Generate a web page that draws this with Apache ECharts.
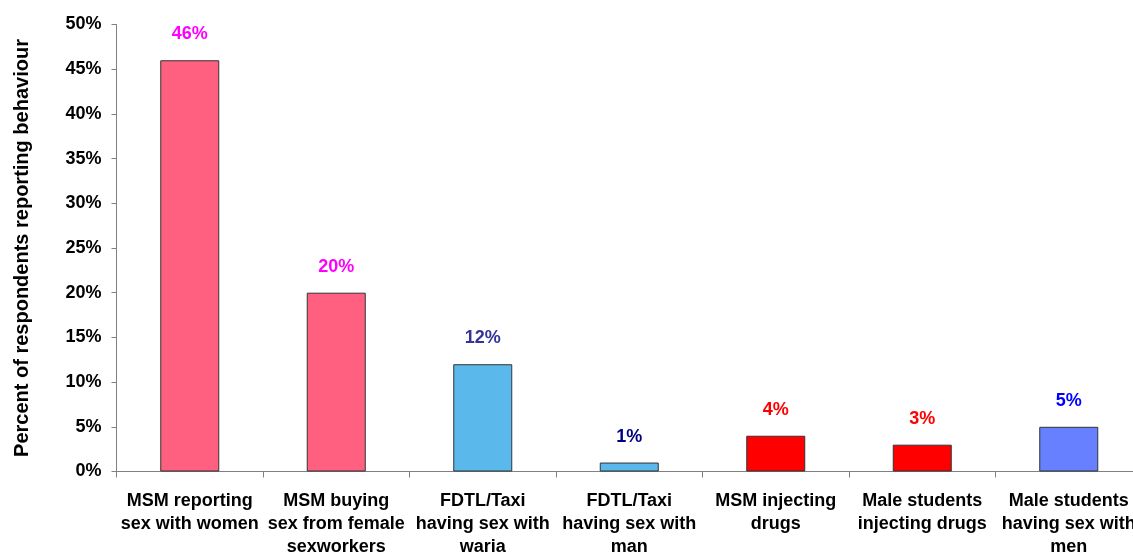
<!DOCTYPE html>
<html><head><meta charset="utf-8">
<script src="https://cdn.jsdelivr.net/npm/echarts@6/dist/echarts.min.js"></script>
<style>html,body{margin:0;padding:0;background:#fff;overflow:hidden}#c{width:1133px;height:554px}</style>
</head><body><div id="c"></div>
<script>
const categories = [
  "MSM reporting\nsex with women",
  "MSM buying\nsex from female\nsexworkers",
  "FDTL/Taxi\nhaving sex with\nwaria",
  "FDTL/Taxi\nhaving sex with\nman",
  "MSM injecting\ndrugs",
  "Male students\ninjecting drugs",
  "Male students\nhaving sex with\nmen"
];
const values = [46, 20, 12, 1, 4, 3, 5];
const barColors = ["#FF6080", "#FF6080", "#5BB8EA", "#5BB8EA", "#FF0000", "#FF0000", "#6680FF"];
const labelColors = ["#FF00FF", "#FF00FF", "#333399", "#000080", "#FF0000", "#FF0000", "#0000FF"];
const yTicks = [0, 5, 10, 15, 20, 25, 30, 35, 40, 45, 50];

const font = "Liberation Sans, Arial, sans-serif";
const chart = echarts.init(document.getElementById('c'));
chart.setOption({
  animation: false,
  grid: { left: 116.5, top: 24.5, width: 1025.5, height: 447, containLabel: false, outerBoundsMode: 'none' },
  xAxis: {
    type: 'category', data: categories,
    axisLine: { lineStyle: { color: '#808080', width: 1 } },
    axisTick: { show: true, length: 6, lineStyle: { color: '#808080' }, alignWithLabel: false },
    axisLabel: { color: '#000', fontFamily: font, fontWeight: 'bold', fontSize: 18, lineHeight: 23, margin: 18, interval: 0 }
  },
  yAxis: {
    type: 'value', min: yTicks[0], max: yTicks[yTicks.length - 1], interval: 5,
    name: 'Percent of respondents reporting behaviour', nameLocation: 'middle', nameGap: 84, nameRotate: 90,
    nameTextStyle: { color: '#000', fontFamily: font, fontWeight: 'bold', fontSize: 20 },
    axisLine: { show: true, lineStyle: { color: '#808080', width: 1 } },
    axisTick: { show: true, length: 5, lineStyle: { color: '#808080' } },
    splitLine: { show: false },
    axisLabel: { color: '#000', fontFamily: font, fontWeight: 'bold', fontSize: 18, margin: 15, formatter: '{value}%' }
  },
  series: [{
    type: 'bar', barWidth: 59,
    data: values.map((v, i) => ({
      value: v,
      itemStyle: { color: barColors[i], borderColor: '#333', borderWidth: 1 },
      label: { color: labelColors[i] }
    })),
    label: { show: true, position: 'top', distance: 17, fontFamily: font, fontWeight: 'bold', fontSize: 18, formatter: '{c}%' }
  }]
});
</script></body></html>
